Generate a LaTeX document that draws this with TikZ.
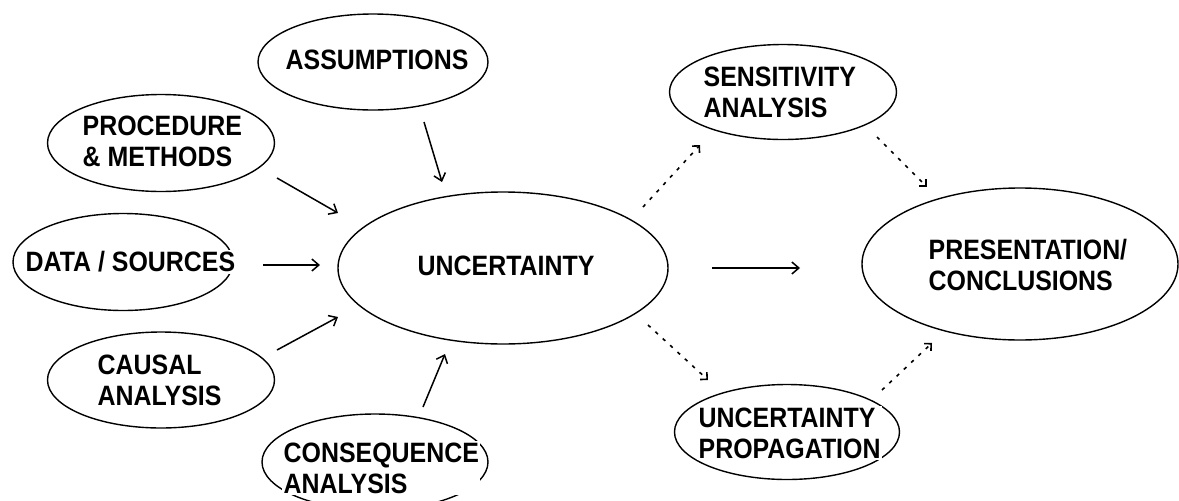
\documentclass[tikz,border=0pt]{standalone}
\usepackage{fontspec}
\setmainfont{Liberation Sans}[FakeStretch=0.89]
\usetikzlibrary{shapes.geometric,arrows.meta}
\tikzset{
  ell/.style={draw, ellipse, line width=1.4pt, inner sep=0pt},
  lbl/.style={font=\fontsize{28}{31}\selectfont\bfseries, align=left, anchor=west, inner sep=1.5pt, fill=white},
  arr/.style={line width=1.5pt, -{Straight Barb[length=7pt,width=12pt,line width=1.5pt]}},
  dotarr/.style={line width=1.6pt, dash pattern=on 3.5pt off 6.5pt, -{Straight Barb[length=5pt,width=10pt,line width=1.6pt]}}
}
\begin{document}
\begin{tikzpicture}[x=1pt,y=-1pt]
\useasboundingbox (0,0) rectangle (1179,501);
\clip (0,0) rectangle (1179,501);
% ellipses
\node[ell, minimum width=230pt, minimum height=96pt] (assump) at (373,62) {};
\node[ell, minimum width=227pt, minimum height=97pt] (proc) at (161,143) {};
\node[ell, minimum width=220pt, minimum height=97pt] (data) at (123,262) {};
\node[ell, minimum width=227pt, minimum height=96pt] (causal) at (161,380) {};
\node[ell, minimum width=226pt, minimum height=96pt] (conseq) at (375,462) {};
\node[ell, minimum width=330pt, minimum height=152pt] (unc) at (503,268) {};
\node[ell, minimum width=227pt, minimum height=95pt] (sens) at (783,92) {};
\node[ell, minimum width=225pt, minimum height=95pt] (prop) at (787,432) {};
\node[ell, minimum width=316pt, minimum height=152pt] (pres) at (1020,264) {};
% labels
\node[lbl] (tassump) at (284,60) {ASSUMPTIONS};
\node[lbl] (tproc) at (81,141) {PROCEDURE\\\& METHODS};
\node[lbl] (tdata) at (24,262) {DATA / SOURCES};
\node[lbl] (tcausal) at (96,380) {CAUSAL\\ANALYSIS};
\node[lbl] (tconseq) at (282,468) {CONSEQUENCE\\ANALYSIS};
\node[lbl] (tunc) at (416,266) {UNCERTAINTY};
\node[lbl] (tsens) at (702,92) {SENSITIVITY\\ANALYSIS};
\node[lbl] (tprop) at (697,433) {UNCERTAINTY\\PROPAGATION};
\node[lbl] (tpres) at (927,265) {PRESENTATION/\\CONCLUSIONS};
% solid arrows
\draw[arr] ([shift={(51,60)}]assump.center) -- ([shift={(-61,-86)}]unc.center);
\draw[arr] ([shift={(116,35)}]proc.center) -- ([shift={(-165,-55)}]unc.center);
\draw[arr] ([shift={(140,3)}]data.center) -- ([shift={(-183,-3)}]unc.center);
\draw[arr] ([shift={(116,-30)}]causal.center) -- ([shift={(-165,49)}]unc.center);
\draw[arr] ([shift={(48,-55)}]conseq.center) -- ([shift={(-58,86)}]unc.center);
\draw[arr] ([shift={(209,0)}]unc.center) -- ([shift={(-220,4)}]pres.center);
% dotted arrows
\draw[dotarr] ([shift={(140,-61)}]unc.center) -- ([shift={(-83,53)}]sens.center);
\draw[dotarr] ([shift={(94,45)}]sens.center) -- ([shift={(-93,-77)}]pres.center);
\draw[dotarr] ([shift={(145,57)}]unc.center) -- ([shift={(-79,-52)}]prop.center);
\draw[dotarr] ([shift={(95,-42)}]prop.center) -- ([shift={(-88,79)}]pres.center);
\end{tikzpicture}
\end{document}
